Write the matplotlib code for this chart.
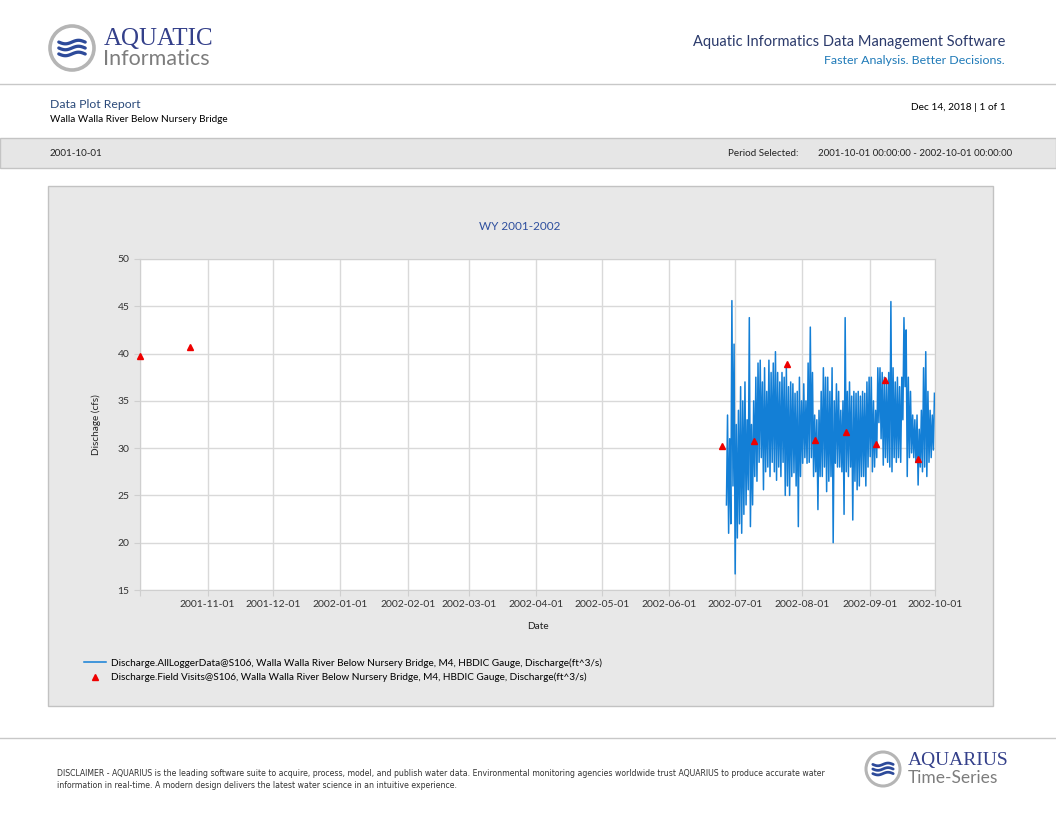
import matplotlib
matplotlib.use("Agg")
import matplotlib.pyplot as plt
import matplotlib.dates as mdates
from matplotlib.patches import Rectangle, Circle
import numpy as np
import datetime as dt

W, H = 1056, 816

# logger data: daily high / low, 2002-06-27 .. 2002-09-30
logger_start = dt.datetime(2002, 6, 27)
daily_high = [33.5, 31.0, 45.6, 41.0,
              32.5, 34.0, 36.5, 35.0, 37.0, 33.0, 43.8, 32.5, 35.0, 37.5,
              39.0, 39.3, 37.0, 38.5, 36.0, 39.3, 38.0, 39.0, 40.2, 38.0,
              37.0, 38.0, 37.5, 38.6, 36.5, 37.0, 36.8, 35.8, 36.0, 37.5, 35.0,
              36.8, 35.0, 39.0, 42.8, 38.0, 33.5, 33.0, 34.0, 36.0, 38.5,
              37.5, 37.5, 36.0, 38.5, 35.0, 36.8, 36.0, 34.0, 35.0, 43.8,
              36.0, 37.0, 35.5, 36.0, 35.8, 36.0, 35.5, 36.0, 35.8, 37.0, 37.5,
              37.5, 35.0, 34.0, 38.5, 38.5, 38.0, 37.5, 37.0, 38.0, 45.5,
              38.5, 37.0, 37.5, 36.5, 37.5, 43.8, 42.5, 37.5, 36.0, 33.5,
              33.0, 33.5, 32.0, 34.0, 38.5, 40.2, 36.0, 34.0, 33.5, 35.8]
daily_low = [24.0, 21.0, 22.0, 26.0,
             16.7, 20.5, 22.0, 21.0, 23.0, 24.0, 25.6, 21.7, 24.0, 27.0,
             26.5, 28.5, 29.0, 25.6, 27.5, 28.0, 27.0, 28.5, 27.5, 26.6,
             28.0, 27.0, 28.5, 25.0, 26.0, 25.0, 27.0, 27.4, 26.0, 21.7, 27.0,
             28.4, 29.0, 28.4, 28.5, 29.0, 27.0, 27.5, 23.5, 27.0, 27.0,
             28.0, 25.4, 26.5, 27.0, 20.0, 28.4, 28.0, 28.0, 27.5, 23.0,
             27.5, 27.0, 28.0, 22.4, 26.5, 25.6, 26.0, 27.0, 27.0, 26.0, 28.0,
             29.1, 27.5, 28.0, 29.0, 32.7, 31.0, 28.2, 29.0, 28.5, 28.0,
             27.5, 29.0, 28.5, 29.0, 28.5, 33.0, 36.5, 27.0, 29.0, 29.5,
             29.0, 28.5, 26.1, 28.0, 27.5, 28.0, 27.0, 28.5, 29.0, 29.8]

visit_dates = ["2001-10-01", "2001-10-24", "2002-06-25", "2002-07-10", "2002-07-25",
               "2002-08-07", "2002-08-21", "2002-09-04", "2002-09-08", "2002-09-23"]
visit_values = [39.7, 40.7, 30.2, 30.8, 38.9, 30.9, 31.7, 30.4, 37.2, 28.8]

series_names = ["Discharge.AllLoggerData@S106, Walla Walla River Below Nursery Bridge, M4, HBDIC Gauge, Discharge(ft^3/s)",
                "Discharge.Field Visits@S106, Walla Walla River Below Nursery Bridge, M4, HBDIC Gauge, Discharge(ft^3/s)"]

NAVY = "#2b3a6b"
BLUE = "#1f7ab8"
SANS = ["Lato", "DejaVu Sans"]
NARROW = ["Liberation Sans Narrow", "DejaVu Sans"]

fig = plt.figure(figsize=(W / 100, H / 100), dpi=100)

# page background drawn in pixel coordinates
bg = fig.add_axes([0, 0, 1, 1])
bg.set_xlim(0, W)
bg.set_ylim(H, 0)
bg.axis("off")


def wave_logo(cx, cy, r, lw):
    bg.add_patch(Circle((cx, cy), r, facecolor="white", edgecolor="#b5b5b5", linewidth=lw))
    xs = np.linspace(cx - r * 0.6, cx + r * 0.6, 60)
    for dy in (-0.27, 0.0, 0.27):
        bg.plot(xs, cy + dy * r + 0.08 * r * np.sin((xs - xs[0]) / (r * 0.19)),
                color="#2d4a9a", linewidth=lw * 0.9, solid_capstyle="round")


# header
wave_logo(72, 48, 22, 2.6)
bg.text(104, 39, "AQUATIC", fontsize=18, family="Liberation Serif", color="#34408a", va="center")
bg.text(103, 59, "Informatics", fontsize=15.5, family=SANS, color="#7d7d7d", va="center")
bg.text(1005, 42, "Aquatic Informatics Data Management Software", fontsize=10.5,
        family=SANS, color=NAVY, ha="right", va="center")
bg.text(1005, 60, "Faster Analysis. Better Decisions.", fontsize=8.9, family=SANS,
        color=BLUE, ha="right", va="center")
bg.plot([0, W], [84, 84], color="#c8c8c8", linewidth=1)

bg.text(50, 105, "Data Plot Report", fontsize=8.8, family=SANS, color="#2b4a7a", va="center")
bg.text(50, 120, "Walla Walla River Below Nursery Bridge", fontsize=7.2, family=SANS,
        color="black", va="center")
bg.text(1006, 108, "Dec 14, 2018 | 1 of 1", fontsize=7.3, family=SANS, color="black",
        ha="right", va="center")

# info band
bg.add_patch(Rectangle((0, 138), W, 30, facecolor="#e6e6e6", edgecolor="#c4c4c4", linewidth=1))
bg.text(50, 153, "2001-10-01", fontsize=7.1, family=SANS, color="#222222", va="center")
bg.text(728, 153, "Period Selected:", fontsize=7.1, family=SANS, color="#222222", va="center")
bg.text(818, 153, "2001-10-01 00:00:00 - 2002-10-01 00:00:00", fontsize=7.0, family=SANS,
        color="#222222", va="center")

# chart panel
bg.add_patch(Rectangle((48, 186), 945, 520, facecolor="#e8e8e8", edgecolor="#c2c2c2", linewidth=1))
bg.text(520, 226, "WY 2001-2002", fontsize=8.5, family=SANS, color="#2e4f9e", ha="center", va="center")

# footer
bg.plot([0, W], [738, 738], color="#c8c8c8", linewidth=1)
bg.text(57, 774, "DISCLAIMER - AQUARIUS is the leading software suite to acquire, process, model, and publish "
        "water data. Environmental monitoring agencies worldwide trust AQUARIUS to produce accurate water",
        fontsize=5.55, family=NARROW, color="#333333", va="center")
bg.text(57, 786, "information in real-time. A modern design delivers the latest water science in an "
        "intuitive experience.",
        fontsize=5.55, family=NARROW, color="#333333", va="center")
wave_logo(883, 769, 17, 2.2)
bg.text(908, 761, "AQUARIUS", fontsize=14, family="Liberation Serif", color="#34408a", va="center")
bg.text(908, 778, "Time-Series", fontsize=12.5, family=SANS, color="#7d7d7d", va="center")

# chart axes
ax = fig.add_axes([140 / W, 1 - 590 / H, 795 / W, 331 / H])
ax.set_facecolor("white")

t_logger = []
v_logger = []
for i, (lo, hi) in enumerate(zip(daily_low, daily_high)):
    day = logger_start + dt.timedelta(days=i)
    t_logger += [day + dt.timedelta(hours=6), day + dt.timedelta(hours=18)]
    v_logger += [lo, hi]

line, = ax.plot(t_logger, v_logger, color="#137fd6", linewidth=1.1, zorder=3)
t_visit = [dt.datetime.strptime(d, "%Y-%m-%d") for d in visit_dates]
pts, = ax.plot(t_visit, visit_values, linestyle="none", marker="^", markersize=5,
               color="#ee0000", zorder=4, clip_on=False)

ax.set_xlim(dt.datetime(2001, 10, 1), dt.datetime(2002, 10, 1))
ax.set_ylim(15, 50)
ax.set_yticks(np.arange(15, 51, 5))
ax.xaxis.set_major_locator(mdates.MonthLocator())
ax.xaxis.set_major_formatter(mdates.DateFormatter("%Y-%m-%d"))
ax.grid(True, color="#d9d9d9", linewidth=1)
ax.set_axisbelow(True)
for s in ax.spines.values():
    s.set_color("#cfcfcf")
ax.tick_params(axis="both", colors="#cfcfcf", labelcolor="#333333", labelsize=7.5, length=4)
for lab in ax.get_xticklabels() + ax.get_yticklabels():
    lab.set_family(SANS)
fig.canvas.draw()
ax.get_xticklabels()[0].set_visible(False)

ax.set_xlabel("Date", fontsize=7.2, family=SANS, color="#222222", labelpad=9)
ax.set_ylabel("Dischage (cfs)", fontsize=7.2, family=SANS, color="#222222", labelpad=12)

leg = fig.legend([line, pts], series_names, loc="upper left",
                 bbox_to_anchor=(80 / W, 1 - 654 / H), frameon=False,
                 prop={"family": SANS, "size": 7.2}, handlelength=2.2, handletextpad=0.5,
                 labelspacing=0.5, borderaxespad=0)

fig.savefig("out.png", dpi=100)
